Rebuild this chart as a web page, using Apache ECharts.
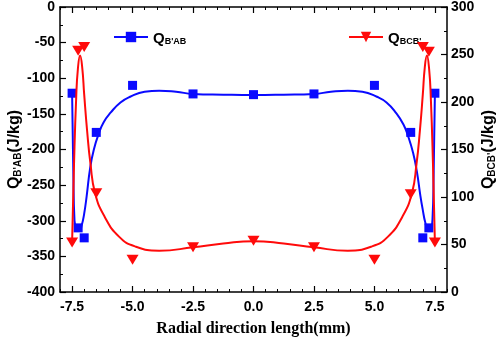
<!DOCTYPE html>
<html>
<head>
<meta charset="utf-8">
<script src="https://cdn.jsdelivr.net/npm/echarts@6/dist/echarts.min.js"></script>
<style>
  html, body { margin: 0; padding: 0; background: #fff; }
  #chart { width: 500px; height: 337px; }
</style>
</head>
<body>
<div id="chart"></div>
<script>
// Measured heat values along the radial direction
const radialPos = [-7.5, -7.25, -7.0, -6.5, -5.0, -2.5, 0, 2.5, 5.0, 6.5, 7.0, 7.25, 7.5];
const qBAB = [-121, -310, -324, -176, -110, -122, -123, -122, -110, -176, -324, -310, -121];
const qBCB = [52, 254, 258, 104, 34, 47, 54, 47, 34, 103, 258, 253, 52];

// Fitted curves
const fitBABx = [-7.5, -7.45, -7.4, -7.3, -7.2, -7.1, -7.0, -6.9, -6.75, -6.6, -6.4, -6.2, -5.9, -5.5, -5.1, -4.5, -3.9, -3.2, -2.5, -1.25, 0,
                 1.25, 2.5, 3.2, 3.9, 4.5, 5.1, 5.5, 5.9, 6.2, 6.4, 6.6, 6.75, 6.9, 7.0, 7.1, 7.2, 7.3, 7.4, 7.45, 7.5];
const fitBABy = [-121, -230, -300, -312, -313, -306, -290, -266, -225, -200, -178, -162, -148, -134, -126, -119, -117.5, -119, -122, -123, -123.5,
                 -123, -122, -119, -117.5, -119, -126, -134, -149, -165, -182, -205, -230, -265, -285, -302, -310, -310, -298, -230, -121];
const fitBCBx = [-7.5, -7.42, -7.33, -7.26, -7.17, -7.08, -7.0, -6.88, -6.74, -6.55, -6.15, -5.55, -4.9, -3.9, -2.5, -1.25, 0,
                 1.25, 2.5, 3.9, 4.9, 5.55, 6.15, 6.55, 6.74, 6.88, 7.0, 7.08, 7.17, 7.26, 7.33, 7.42, 7.5];
const fitBCBy = [52, 135, 205, 235, 249, 236, 208, 170, 135, 104, 79, 58, 48, 43.5, 47, 51, 53.5,
                 51, 47, 43.5, 48, 58, 79, 104, 135, 170, 208, 236, 249, 235, 205, 135, 52];

// Axis ticks and labels
const xTicks = [-7.5, -5.0, -2.5, 0, 2.5, 5.0, 7.5];
const xRange = [-8, 8];
const leftRange = [-400, 0];
const rightRange = [0, 300];

const nameBAB = "Q_B'AB";
const nameBCB = "Q_BCB'";

const pair = (xs, ys) => xs.map((x, i) => [x, ys[i]]);

const BLUE = '#0a0aff';
const RED = '#ff0a0a';
const triangleDown = 'path://M0,0L12,0L6,10Z';
const sans = 'Liberation Sans';

const axisLine = { show: true, onZero: false, lineStyle: { color: '#000', width: 1.5 } };
const tickLabel = { color: '#000', fontFamily: sans, fontWeight: 'bold', fontSize: 14 };

const richName = {
  q: { fontFamily: sans, fontWeight: 'bold', fontSize: 16, lineHeight: 20, verticalAlign: 'bottom', color: '#000' },
  s: { fontFamily: sans, fontWeight: 'bold', fontSize: 10, lineHeight: 10, verticalAlign: 'bottom', color: '#000' }
};
const richLegend = {
  q: { fontFamily: sans, fontWeight: 'bold', fontSize: 15, lineHeight: 18, verticalAlign: 'bottom', color: '#000' },
  s: { fontFamily: sans, fontWeight: 'bold', fontSize: 9, lineHeight: 9, verticalAlign: 'bottom', color: '#000' }
};
const legendFmt = (n) => '{q|Q}{s|' + n.split('_')[1] + '}';

function minorX(position) {
  return {
    type: 'value', position: position, min: xRange[0], max: xRange[1], interval: 0.5,
    axisLine: { show: false, onZero: false }, axisLabel: { show: false }, splitLine: { show: false },
    axisTick: { show: true, inside: true, length: 3, lineStyle: { color: '#000', width: 1 } }
  };
}

const chart = echarts.init(document.getElementById('chart'), null, { renderer: 'canvas' });
chart.setOption({
  animation: false,
  backgroundColor: '#fff',
  grid: { left: 60, right: 53, top: 7, bottom: 45, containLabel: false, outerBoundsMode: 'none' },
  legend: [
    {
      left: 108, top: 26, itemWidth: 34, itemHeight: 13, itemGap: 4,
      data: [nameBAB], formatter: legendFmt, textStyle: { rich: richLegend }
    },
    {
      left: 343, top: 26, itemWidth: 34, itemHeight: 13, itemGap: 4,
      data: [nameBCB], formatter: legendFmt, textStyle: { rich: richLegend }
    }
  ],
  xAxis: [
    {
      type: 'value', position: 'bottom', min: xRange[0], max: xRange[1],
      axisLine: axisLine, splitLine: { show: false },
      axisTick: { show: true, inside: true, length: 6, customValues: xTicks, lineStyle: { color: '#000', width: 1.2 } },
      axisLabel: Object.assign({ margin: 8, customValues: xTicks, formatter: (v) => v.toFixed(1) }, tickLabel),
      name: 'Radial direction length(mm)', nameLocation: 'middle', nameGap: 29, nameMoveOverlap: false,
      nameTextStyle: { fontFamily: 'Liberation Serif', fontWeight: 'bold', fontSize: 16, color: '#000' }
    },
    minorX('bottom'),
    {
      type: 'value', position: 'top', min: xRange[0], max: xRange[1],
      axisLine: axisLine, splitLine: { show: false }, axisLabel: { show: false },
      axisTick: { show: true, inside: true, length: 6, customValues: xTicks, lineStyle: { color: '#000', width: 1.2 } }
    },
    minorX('top')
  ],
  yAxis: [
    {
      type: 'value', position: 'left', min: leftRange[0], max: leftRange[1], interval: 50,
      axisLine: axisLine, splitLine: { show: false },
      axisTick: { show: true, inside: true, length: 6, lineStyle: { color: '#000', width: 1.2 } },
      minorTick: { show: true, splitNumber: 2, length: 3, lineStyle: { color: '#000', width: 1 } },
      axisLabel: Object.assign({ margin: 5 }, tickLabel),
      name: "{q|Q}{s|B'AB}{q|(J/kg)}", nameLocation: 'middle', nameGap: 37, nameRotate: 90,
      nameMoveOverlap: false, nameTextStyle: { rich: richName }
    },
    {
      type: 'value', position: 'right', min: rightRange[0], max: rightRange[1], interval: 50,
      axisLine: axisLine, splitLine: { show: false },
      axisTick: { show: true, inside: true, length: 6, lineStyle: { color: '#000', width: 1.2 } },
      minorTick: { show: true, splitNumber: 2, length: 3, lineStyle: { color: '#000', width: 1 } },
      axisLabel: Object.assign({ margin: 4 }, tickLabel),
      name: "{q|Q}{s|BCB'}{q|(J/kg)}", nameLocation: 'middle', nameGap: 30, nameRotate: 90,
      nameMoveOverlap: false, nameTextStyle: { rich: richName }
    }
  ],
  series: [
    {
      name: nameBAB, type: 'line', xAxisIndex: 0, yAxisIndex: 0,
      data: pair(fitBABx, fitBABy), smooth: 0.5,
      symbol: 'rect', symbolSize: 9, showSymbol: false,
      lineStyle: { color: BLUE, width: 2 }, itemStyle: { color: BLUE }, z: 2
    },
    {
      name: nameBAB, type: 'scatter', xAxisIndex: 0, yAxisIndex: 0,
      data: pair(radialPos, qBAB), symbol: 'rect', symbolSize: 9,
      itemStyle: { color: BLUE, opacity: 1 }, z: 3
    },
    {
      name: nameBCB, type: 'line', xAxisIndex: 0, yAxisIndex: 1,
      data: pair(fitBCBx, fitBCBy), smooth: 0.5,
      symbol: triangleDown, symbolSize: [12, 10], showSymbol: false,
      lineStyle: { color: RED, width: 2 }, itemStyle: { color: RED }, z: 4
    },
    {
      name: nameBCB, type: 'scatter', xAxisIndex: 0, yAxisIndex: 1,
      data: pair(radialPos, qBCB), symbol: triangleDown, symbolSize: [12, 10],
      itemStyle: { color: RED, opacity: 1 }, z: 5
    }
  ]
});
</script>
</body>
</html>
